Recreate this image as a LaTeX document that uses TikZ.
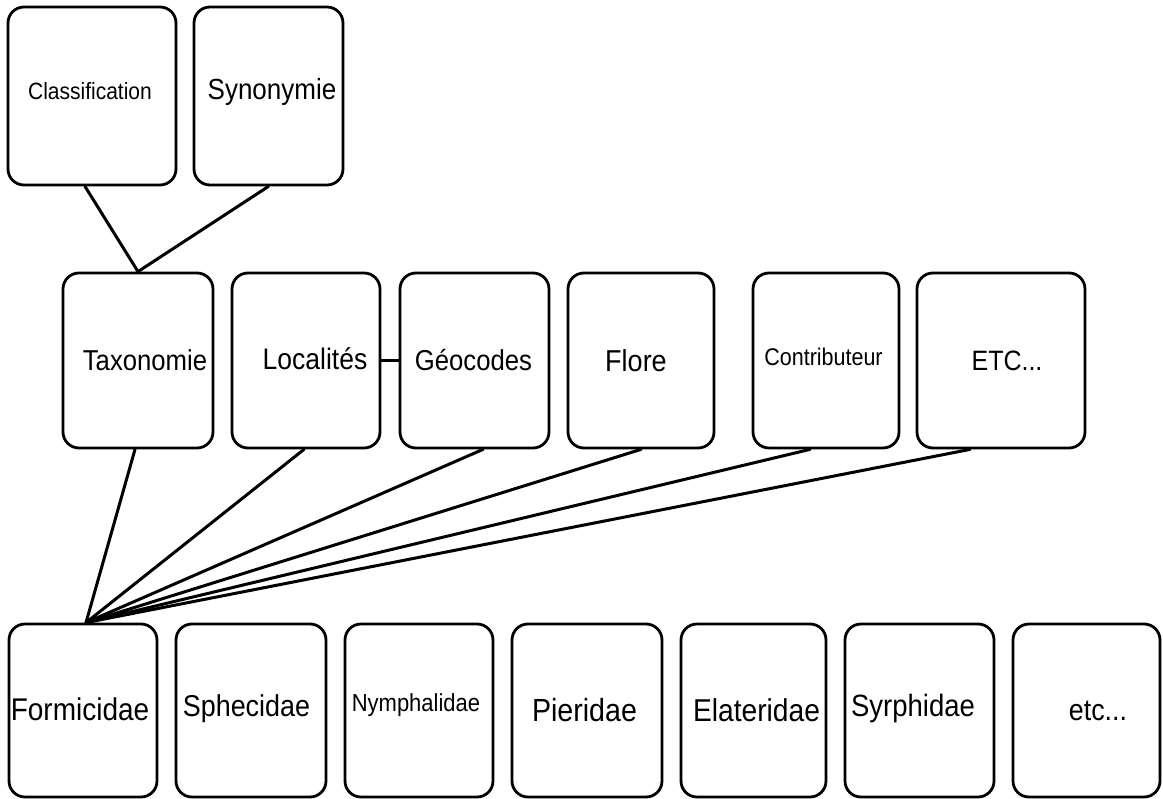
\documentclass[tikz,border=0pt]{standalone}
\usepackage{fontspec}
\usepackage{graphicx}
\setmainfont{Liberation Sans}
\usetikzlibrary{calc}
\newcommand\vst[1]{\scalebox{1}[1.12]{#1}}
\newcommand\fsz[1]{\fontsize{#1}{#1}\selectfont}
\tikzset{
  box/.style={draw, line width=2.8pt, rounded corners=16pt, inner sep=0pt, fill=white},
  lbl/.style={inner sep=0pt},
  conn/.style={line width=3pt, line cap=round},
}
\begin{document}
\begin{tikzpicture}[x=1pt,y=-1pt]
\useasboundingbox (0,0) rectangle (1163,799);
% top row
\node[box, minimum width=168pt, minimum height=178pt,
  label={[lbl, xshift=-2pt, yshift=5pt]center:\fsz{21}\vst{Classification}}] (cls) at (92,96) {};
\node[box, minimum width=149pt, minimum height=178pt,
  label={[lbl, xshift=3.5pt, yshift=4pt]center:\fsz{26}\vst{Synonymie}}] (syn) at (268.5,96) {};
% middle row
\node[box, minimum width=150pt, minimum height=175pt,
  label={[lbl, xshift=7pt, yshift=0pt]center:\fsz{25.7}\vst{Taxonomie}}] (tax) at (138,360.5) {};
\node[box, minimum width=148pt, minimum height=175pt,
  label={[lbl, xshift=9pt, yshift=1.5pt]center:\fsz{26.5}\vst{Localités}}] (loc) at (306,360.5) {};
\node[box, minimum width=149pt, minimum height=175pt,
  label={[lbl, xshift=-1pt, yshift=0pt]center:\fsz{25.7}\vst{Géocodes}}] (geo) at (474.5,360.5) {};
\node[box, minimum width=146pt, minimum height=175pt,
  label={[lbl, xshift=-5pt, yshift=0pt]center:\fsz{27}\vst{Flore}}] (flo) at (641,360.5) {};
\node[box, minimum width=146pt, minimum height=175pt,
  label={[lbl, xshift=-2.5pt, yshift=3.5pt]center:\fsz{21.5}\vst{Contributeur}}] (con) at (826,360.5) {};
\node[box, minimum width=168pt, minimum height=175pt,
  label={[lbl, xshift=6pt, yshift=0pt]center:\fsz{25}\vst{ETC...}}] (etc) at (1001,360.5) {};
% bottom row
\node[box, minimum width=148pt, minimum height=173pt,
  label={[lbl, xshift=-3pt, yshift=1.5pt]center:\fsz{28}\vst{Formicidae}}] (for) at (83,710.5) {};
\node[box, minimum width=150pt, minimum height=173pt,
  label={[lbl, xshift=-4.5pt, yshift=2pt]center:\fsz{26.9}\vst{Sphecidae}}] (sph) at (251,710.5) {};
\node[box, minimum width=148pt, minimum height=173pt,
  label={[lbl, xshift=-3pt, yshift=5pt]center:\fsz{22}\vst{Nymphalidae}}] (nym) at (419,710.5) {};
\node[box, minimum width=150pt, minimum height=173pt,
  label={[lbl, xshift=-2.5pt, yshift=0pt]center:\fsz{28.6}\vst{Pieridae}}] (pie) at (587,710.5) {};
\node[box, minimum width=145pt, minimum height=173pt,
  label={[lbl, xshift=3pt, yshift=0pt]center:\fsz{28.2}\vst{Elateridae}}] (ela) at (753.5,710.5) {};
\node[box, minimum width=149pt, minimum height=173pt,
  label={[lbl, xshift=-6.5pt, yshift=2pt]center:\fsz{27.5}\vst{Syrphidae}}] (syr) at (919.5,710.5) {};
\node[box, minimum width=147pt, minimum height=173pt,
  label={[lbl, xshift=11.5pt, yshift=0pt]center:\fsz{26.8}\vst{etc...}}] (etcb) at (1086.5,710.5) {};
% connectors
\draw[conn] ($(cls.south)+(-7,0)$) -- (tax.north);
\draw[conn] (syn.south) -- (tax.north);
\draw[conn] (loc.east) -- (geo.west);
\coordinate (hub) at ($(for.north)+(3,0)$);
\draw[conn] ($(tax.south)+(-3,0)$) -- (hub);
\draw[conn] ($(loc.south)+(-2,0)$) -- (hub);
\draw[conn] ($(geo.south)+(8.5,0)$) -- (hub);
\draw[conn] (flo.south) -- (hub);
\draw[conn] ($(con.south)+(-16,0)$) -- (hub);
\draw[conn] ($(etc.south)+(-31,0)$) -- (hub);
\end{tikzpicture}
\end{document}
